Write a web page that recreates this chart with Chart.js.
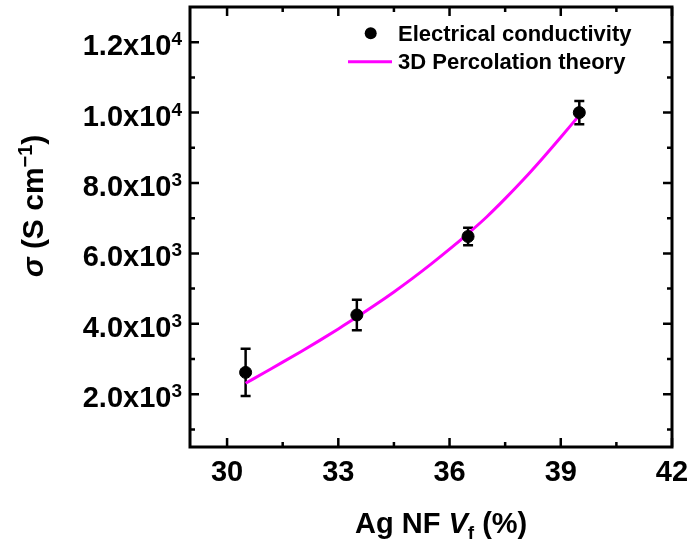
<!DOCTYPE html>
<html>
<head>
<meta charset="utf-8">
<script src="https://cdn.jsdelivr.net/npm/chart.js@4.4.1/dist/chart.umd.min.js"></script>
<style>
  html, body { margin: 0; padding: 0; background: #fff; }
</style>
</head>
<body>
<canvas id="chart" width="691" height="546"></canvas>
<script>
// measured points with error bars
const vf = [30.5, 33.5, 36.5, 39.5];
const sigma = [2620, 4250, 6480, 10000];
const sigmaErr = [670, 430, 250, 330];

// 3D percolation fit
const fitX = [30.5, 31, 31.5, 32, 32.5, 33, 33.5, 34, 34.5, 35, 35.5, 36, 36.5, 37, 37.5, 38, 38.5, 39, 39.5];
const fitY = [2310, 2610, 2910, 3215, 3530, 3855, 4190, 4540, 4905, 5290, 5695, 6120, 6565, 7035, 7555, 8105, 8690, 9300, 9925];

// axes
const xTicks = [30, 33, 36, 39, 42];
const xMinor = [31.5, 34.5, 37.5, 40.5];
const yTicks = [2000, 4000, 6000, 8000, 10000, 12000];
const yMinor = [1000, 3000, 5000, 7000, 9000, 11000];
const yMant = ["2.0", "4.0", "6.0", "8.0", "1.0", "1.2"];
const yExp = ["3", "3", "3", "3", "4", "4"];

const FONT = '"Liberation Sans", Arial, sans-serif';
const MAGENTA = "#ff00ff";

function font(size, style) {
  return (style || "bold") + " " + size + "px " + FONT;
}

// draw a row of [text, font, dy] pieces starting at x
function drawPieces(ctx, pieces, x, y) {
  pieces.forEach((p) => {
    ctx.font = p[1];
    ctx.fillText(p[0], x, y + (p[2] || 0));
    x += ctx.measureText(p[0]).width;
  });
  return x;
}

function piecesWidth(ctx, pieces) {
  return pieces.reduce((w, p) => {
    ctx.font = p[1];
    return w + ctx.measureText(p[0]).width;
  }, 0);
}

const errorBars = {
  id: "errorBars",
  beforeDatasetsDraw(chart) {
    const { ctx, scales: { x, y } } = chart;
    ctx.save();
    ctx.strokeStyle = "#000";
    ctx.lineWidth = 2.5;
    vf.forEach((v, i) => {
      const px = x.getPixelForValue(v);
      const top = y.getPixelForValue(sigma[i] + sigmaErr[i]);
      const bot = y.getPixelForValue(sigma[i] - sigmaErr[i]);
      ctx.beginPath();
      ctx.moveTo(px, top); ctx.lineTo(px, bot);
      ctx.moveTo(px - 5, top); ctx.lineTo(px + 5, top);
      ctx.moveTo(px - 5, bot); ctx.lineTo(px + 5, bot);
      ctx.stroke();
    });
    ctx.restore();
  },
};

const frame = {
  id: "frame",
  afterDraw(chart) {
    const { ctx, chartArea: a, scales: { x, y } } = chart;
    ctx.save();
    ctx.strokeStyle = "#000";
    ctx.fillStyle = "#000";

    // ticks, inward on all four sides
    ctx.lineWidth = 2.5;
    ctx.beginPath();
    const xt = (vals, len) => vals.forEach((v) => {
      const px = x.getPixelForValue(v);
      ctx.moveTo(px, a.bottom); ctx.lineTo(px, a.bottom - len);
      ctx.moveTo(px, a.top); ctx.lineTo(px, a.top + len);
    });
    const yt = (vals, len) => vals.forEach((v) => {
      const py = y.getPixelForValue(v);
      ctx.moveTo(a.left, py); ctx.lineTo(a.left + len, py);
      ctx.moveTo(a.right, py); ctx.lineTo(a.right - len, py);
    });
    xt(xTicks, 9); xt(xMinor, 5);
    yt(yTicks, 9); yt(yMinor, 5);
    ctx.stroke();

    ctx.lineWidth = 3;
    ctx.strokeRect(a.left, a.top, a.right - a.left, a.bottom - a.top);

    // x tick labels
    ctx.font = font(29);
    ctx.textAlign = "center";
    ctx.textBaseline = "alphabetic";
    xTicks.forEach((v) => ctx.fillText(String(v), x.getPixelForValue(v), 481));

    // y tick labels with superscript exponent
    ctx.textAlign = "left";
    yTicks.forEach((v, i) => {
      const py = y.getPixelForValue(v);
      const pieces = [[yMant[i] + "x10", font(29)], [yExp[i], font(19), -10]];
      const w = piecesWidth(ctx, pieces);
      drawPieces(ctx, pieces, 182 - w, py + 13);
    });

    // x axis title
    drawPieces(ctx, [
      ["Ag NF ", font(29)],
      ["V", font(29, "italic bold")],
      ["f", font(19), 6],
      [" (%)", font(29)],
    ], 355, 533);

    // y axis title
    ctx.save();
    ctx.translate(43, 206);
    ctx.rotate(-Math.PI / 2);
    const yTitle = [
      ["σ", font(30, "italic bold")],
      [" (S cm", font(30)],
      ["−1", font(20), -11],
      [")", font(30)],
    ];
    drawPieces(ctx, yTitle, -piecesWidth(ctx, yTitle) / 2, 0);
    ctx.restore();

    // legend
    const ds = chart.data.datasets;
    ctx.beginPath();
    ctx.arc(370.7, 33.3, 6, 0, Math.PI * 2);
    ctx.fill();
    ctx.strokeStyle = MAGENTA;
    ctx.lineWidth = 3;
    ctx.beginPath();
    ctx.moveTo(348, 61.7); ctx.lineTo(392, 61.7);
    ctx.stroke();
    ctx.font = font(22);
    ctx.fillText(ds[1].label, 398, 40.5);
    ctx.fillText(ds[0].label, 398, 69);

    ctx.restore();
  },
};

new Chart(document.getElementById("chart"), {
  type: "scatter",
  data: {
    datasets: [
      {
        type: "line",
        label: "3D Percolation theory",
        data: fitX.map((v, i) => ({ x: v, y: fitY[i] })),
        borderColor: MAGENTA,
        borderWidth: 3,
        pointRadius: 0,
        cubicInterpolationMode: "monotone",
        fill: false,
        order: 2,
      },
      {
        label: "Electrical conductivity",
        data: vf.map((v, i) => ({ x: v, y: sigma[i] })),
        backgroundColor: "#000",
        borderColor: "#000",
        pointRadius: 6,
        order: 1,
      },
    ],
  },
  options: {
    responsive: false,
    animation: false,
    devicePixelRatio: 1,
    layout: { padding: { left: 190, right: 19, top: 3.5, bottom: 99 } },
    scales: {
      x: { type: "linear", min: 29, max: 42, display: false },
      y: { type: "linear", min: 500, max: 13000, display: false },
    },
    plugins: {
      legend: { display: false },
      tooltip: { enabled: false },
    },
  },
  plugins: [errorBars, frame],
});
</script>
</body>
</html>
